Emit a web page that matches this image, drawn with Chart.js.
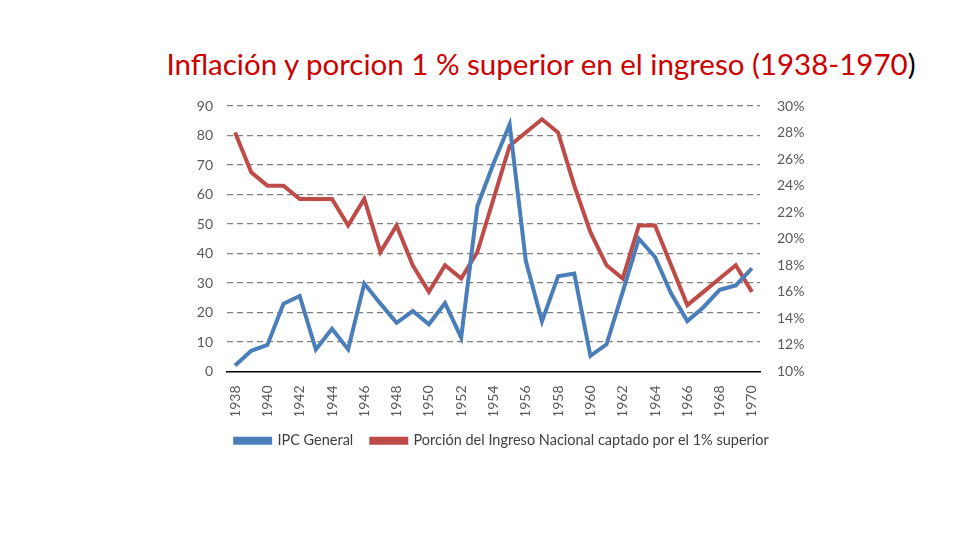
<!DOCTYPE html>
<html>
<head>
<meta charset="utf-8">
<script src="https://cdn.jsdelivr.net/npm/chart.js@4"></script>
<style>
  html,body{margin:0;padding:0;background:#fff;}
  #wrap{position:relative;width:960px;height:540px;}
  #title{position:absolute;left:0;width:1082px;top:46px;text-align:center;
    font-family:Lato,"Open Sans",sans-serif;font-size:29.5px;color:#cc0000;white-space:nowrap;}
  #title span{color:#000;}
  canvas{position:absolute;left:0;top:0;}
</style>
</head>
<body>
<div id="wrap">
  <div id="title">Inflación y porcion 1 % superior en el ingreso (1938-1970<span>)</span></div>
  <canvas id="chart" width="960" height="540"></canvas>
</div>
<script>
const years = [];
for(let y=1938;y<=1970;y++) years.push(String(y));

/* IPC General, left axis */
const ipc = [2,7,9,23,25.6,7.5,14.5,7.5,29.8,23,16.5,20.5,16,23.2,11.5,56,70.5,83.8,37.5,17,32.3,33.2,5.3,9.2,27,45,38.8,26.4,17.1,21.8,27.7,29.2,35];
/* share of top 1%, right axis (%) */
const top1 = [28,25,24,24,23,23,23,21,23,19,21,18,16,18,17,19,23,27,28,29,28,24,20.5,18,17,21,21,18,15,16,17,18,16];

const leftTicks = {min:0,max:90,step:10};
const rightTicks = {min:10,max:30,step:2};

const font = {family:'Lato, "Open Sans", sans-serif', size:14};
const tickColor = '#595959';

new Chart(document.getElementById('chart'),{
  type:'line',
  data:{
    labels:years,
    datasets:[
      {label:'IPC General',data:ipc,yAxisID:'y',borderColor:'#4a7ebb',backgroundColor:'#4a7ebb',
       borderWidth:4,pointRadius:0,tension:0},
      {label:'Porción del Ingreso Nacional captado por el 1% superior',data:top1,yAxisID:'y1',
       borderColor:'#be4b48',backgroundColor:'#be4b48',borderWidth:4,pointRadius:0,tension:0}
    ]
  },
  options:{
    responsive:false,
    animation:false,
    layout:{padding:{top:106,bottom:82,left:44}},
    plugins:{
      legend:{
        position:'bottom',
        labels:{boxWidth:35,boxHeight:4,padding:18,color:'#404040',font:{family:font.family,size:14.5}}
      },
      tooltip:{enabled:false}
    },
    scales:{
      x:{
        offset:true,
        grid:{display:false,offset:false},
        border:{display:true,color:'#000',width:1.5},
        ticks:{autoSkip:false,maxRotation:90,minRotation:90,color:tickColor,font,padding:6,
          callback:function(v,i){ return i%2===0 ? this.getLabelForValue(v) : ''; }},
        afterFit:s=>{s.height=44;}
      },
      y:{
        position:'left',min:leftTicks.min,max:leftTicks.max,
        ticks:{stepSize:leftTicks.step,color:tickColor,font,padding:14},
        grid:{drawTicks:false,color:c=>c.tick.value===0?'rgba(0,0,0,0)':'#7f7f7f',lineWidth:1.2},
        border:{display:false,dash:[6,4]},
        afterFit:s=>{s.width=183;}
      },
      y1:{
        position:'right',min:rightTicks.min,max:rightTicks.max,
        ticks:{stepSize:rightTicks.step,color:tickColor,font,padding:17,callback:v=>v+'%'},
        grid:{drawOnChartArea:false,drawTicks:false},
        border:{display:false},
        afterFit:s=>{s.width=200;}
      }
    }
  }
});
</script>
</body>
</html>
